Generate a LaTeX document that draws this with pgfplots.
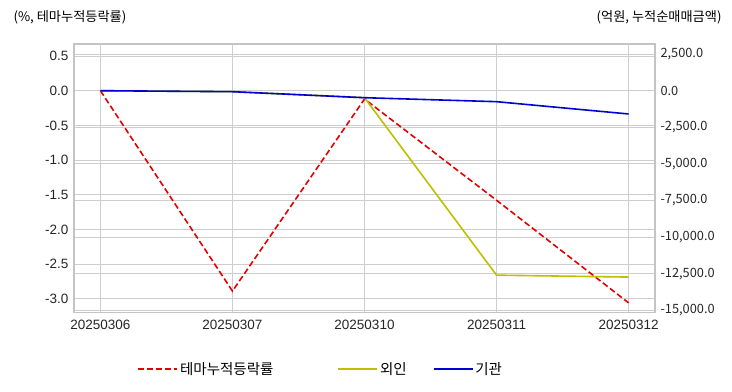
\documentclass[border=0pt]{standalone}
\usepackage{fontspec}
\setmainfont{Liberation Sans}
\newfontfamily\kr{Noto Sans CJK KR}
\usepackage{pgfplots}
\pgfplotsset{compat=1.18}
\definecolor{tred}{RGB}{228,0,0}
\definecolor{tyel}{RGB}{191,191,0}
\definecolor{tblue}{RGB}{0,0,210}
\definecolor{gridc}{RGB}{206,206,206}
\definecolor{framec}{RGB}{196,196,196}
\pgfplotsset{
  common/.style={
    at={(74bp,79.3bp)}, anchor=south west, scale only axis,
    width=581bp, height=268.7bp,
    xmin=-0.2, xmax=4.2,
    major tick length=0pt,
    grid style={gridc, line width=0.9bp},
    axis line style={framec, line width=1.2bp},
    tick label style={font=\fontsize{13.5bp}{15bp}\selectfont, text=black!85},
    /pgf/number format/assume math mode=true,
  }
}
\begin{document}
\begin{tikzpicture}
\pgfplotsset{set layers}
\begin{axis}[common,
  ymin=-3.202, ymax=0.674,
  xtick={0,1,2,3,4},
  xticklabels={20250306,20250307,20250310,20250311,20250312},
  ytick={-3,-2.5,-2,-1.5,-1,-0.5,0,0.5},
  xmajorgrids, ymajorgrids,
  yticklabel style={/pgf/number format/.cd, fixed, fixed zerofill, precision=1, /tikz/.cd, xshift=-2bp},
  xticklabel style={yshift=-4bp},
  every axis y label/.style={at={(rel axis cs:-0.110,1.1005)}, anchor=west},
  ylabel={\kr\fontsize{13.2bp}{15bp}\selectfont (\%, 테마누적등락률)},
]
\addplot[tred, line width=1.6bp, dash pattern=on 6bp off 3bp] coordinates {
  (0,0) (1,-2.89) (2,-0.12) (3,-1.58) (4,-3.06)
};
\end{axis}
\begin{axis}[common,
  ymin=-15164, ymax=3190,
  axis y line*=right, axis x line=none,
  ytick={-15000,-12500,-10000,-7500,-5000,-2500,0,2500},
  scaled y ticks=false,
  ymajorgrids,
  yticklabel style={font=\kr\fontsize{12.8bp}{15bp}\selectfont, /pgf/number format/.cd, fixed, fixed zerofill, precision=1, 1000 sep={,}, /tikz/.cd, xshift=2bp},
  every axis y label/.style={at={(rel axis cs:1.1205,1.1005)}, anchor=east},
  ylabel={\kr\fontsize{13.2bp}{15bp}\selectfont (억원, 누적순매매금액)},
  legend columns=3,
  legend style={at={(rel axis cs:0.109,-0.2095)}, anchor=west, draw=none, fill=none,
    inner sep=0pt,
    font=\kr\fontsize{14.5bp}{16bp}\selectfont,
    /tikz/column 2/.style={column sep=62bp},
    /tikz/column 4/.style={column sep=24bp}},
  legend image code/.code={\draw[#1] (0bp,0bp) -- (26bp,0bp); \path (0bp,0bp) -- (39bp,0bp);},
]
\addlegendimage{tred, line width=1.6bp, dash pattern=on 6bp off 3bp}
\addlegendentry{테마누적등락률}
\addplot[tyel, line width=1.6bp] coordinates {
  (0,0) (1,-68) (2,-478) (3,-12600) (4,-12730)
};
\addlegendentry{외인}
\addplot[tblue, line width=1.6bp] coordinates {
  (0,0) (1,-68) (2,-478) (3,-750) (4,-1590)
};
\addlegendentry{기관}
\end{axis}
\path (0bp,0bp) rectangle (732bp,392bp);
\end{tikzpicture}
\end{document}
